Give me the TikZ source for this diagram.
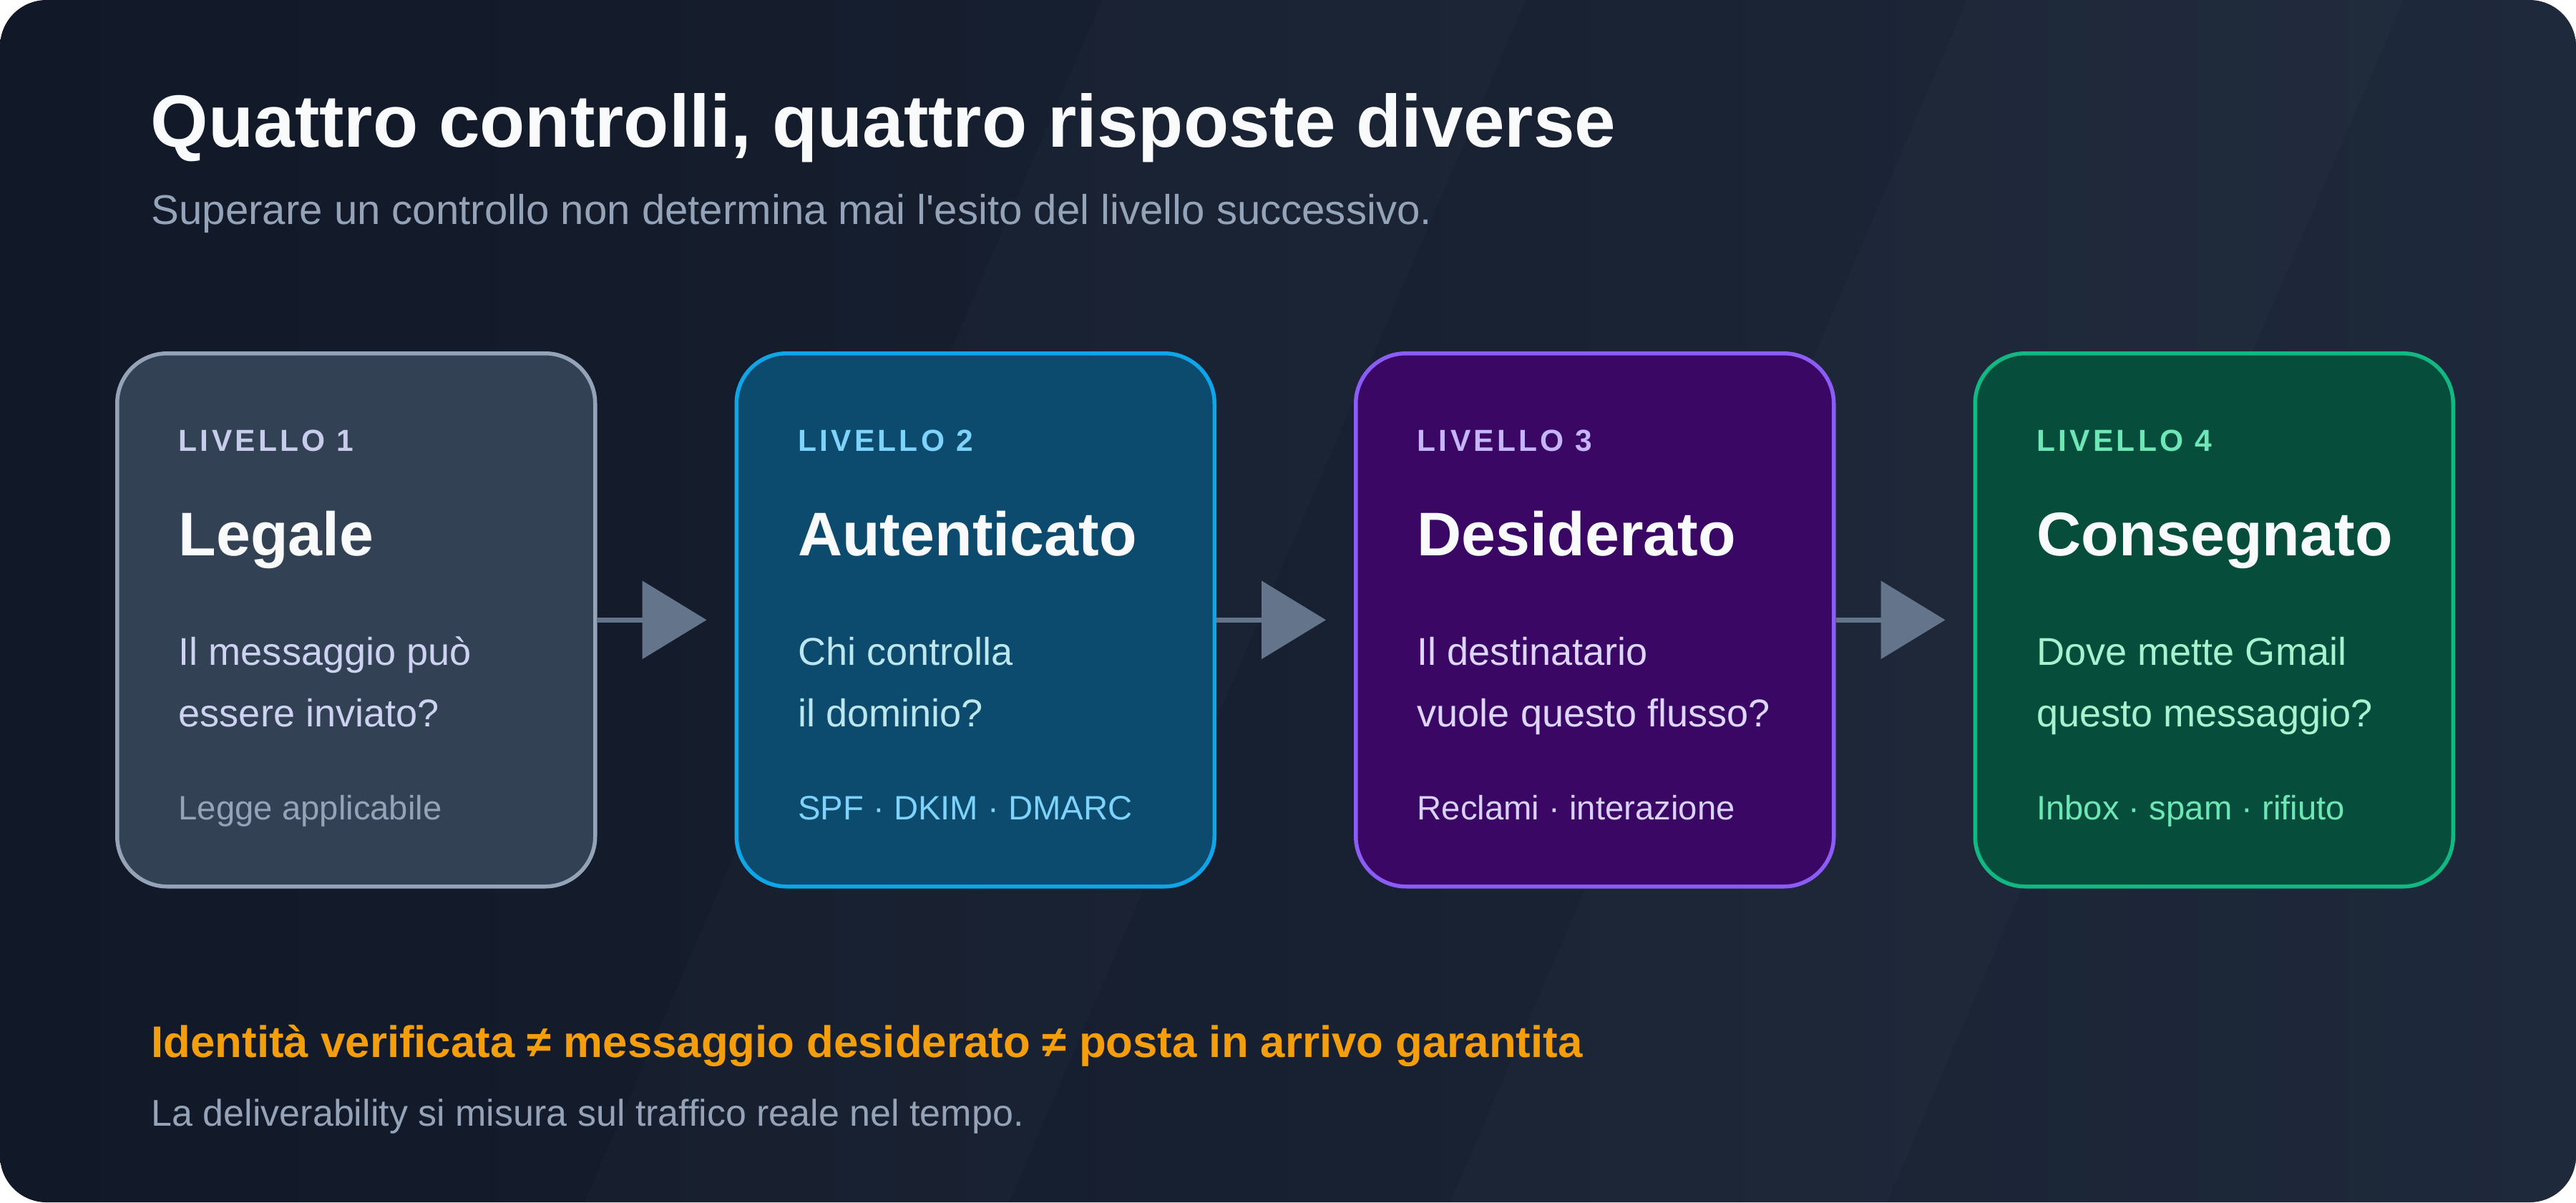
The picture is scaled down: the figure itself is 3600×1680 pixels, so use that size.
\documentclass[tikz,border=0pt]{standalone}
\usepackage{fontspec}
\setmainfont{Liberation Sans}
\newfontfamily\tagfont[LetterSpace=10]{Liberation Sans}
\usetikzlibrary{arrows.meta,positioning,calc}
\definecolor{bgleft}{HTML}{111827}
\definecolor{bgright}{HTML}{1E293B}
\definecolor{titlewhite}{HTML}{F8FAFC}
\definecolor{mutedgrey}{HTML}{94A3B8}
\definecolor{warnorange}{HTML}{F59E0B}
\definecolor{arrowgrey}{HTML}{64748B}
\definecolor{slatefill}{HTML}{334155}
\definecolor{slateline}{HTML}{94A3B8}
\definecolor{slatetag}{HTML}{C7CCEA}
\definecolor{slatetext}{HTML}{CDD2F0}
\definecolor{skyfill}{HTML}{0C4A6E}
\definecolor{skyline}{HTML}{0EA5E9}
\definecolor{skytag}{HTML}{7DD3FC}
\definecolor{skytext}{HTML}{BDE7EE}
\definecolor{violetfill}{HTML}{3B0764}
\definecolor{violetline}{HTML}{8B5CF6}
\definecolor{violettag}{HTML}{C4B5FD}
\definecolor{violettext}{HTML}{DDD6FE}
\definecolor{greenfill}{HTML}{064E3B}
\definecolor{greenline}{HTML}{10B981}
\definecolor{greentag}{HTML}{6EE7B7}
\definecolor{greentext}{HTML}{A7F3D0}
\tikzset{
  card/.style={rounded corners=7mm,line width=0.55mm,minimum width=66.8mm,minimum height=74.5mm,inner sep=0pt},
  lvltag/.style={anchor=base west,inner sep=0pt,font=\tagfont\bfseries\fontsize{12.1}{14}\selectfont},
  cardhead/.style={anchor=base west,inner sep=0pt,text=titlewhite,font=\bfseries\fontsize{24.5}{29}\selectfont},
  question/.style={anchor=base west,inner sep=0pt,align=left,font=\fontsize{15.4}{24.2}\selectfont},
  cardfoot/.style={anchor=base west,inner sep=0pt,font=\fontsize{13.45}{16}\selectfont},
  flow/.style={-{Triangle[length=9mm,width=10.8mm]},line width=0.7mm,draw=arrowgrey,shorten >=3.9mm}
}
\begin{document}
\begin{tikzpicture}[x=0.1mm,y=-0.1mm,node distance=19.2mm]
  \useasboundingbox (0,0) rectangle (3600,1680);
  \fill[white] (0,0) rectangle (3600,1680);
  \shade[left color=bgleft,right color=bgright,rounded corners=6.5mm] (0,0) rectangle (3600,1680);
  % faint diagonal bands
  \fill[white,opacity=0.015] (1540,0) -- (2132,0) -- (1410,1680) -- (817,1680) -- cycle;
  \fill[white,opacity=0.015] (2749,0) -- (3359,0) -- (2637,1680) -- (2027,1680) -- cycle;

  % header
  \node[anchor=base west,inner sep=0pt,text=titlewhite,font=\bfseries\fontsize{29.45}{35}\selectfont] (title) at (210,205) {Quattro controlli, quattro risposte diverse};
  \node[anchor=base west,inner sep=0pt,text=mutedgrey,font=\fontsize{16.55}{20}\selectfont] (subtitle) at (211,313) {Superare un controllo non determina mai l{\textquotesingle}esito del livello successivo.};

  % the four levels
  \node[card,fill=slatefill,draw=slateline,anchor=north west] (legale) at (161,491) {};
  \node[card,fill=skyfill,draw=skyline,right=of legale] (autent) {};
  \node[card,fill=violetfill,draw=violetline,right=of autent] (desid) {};
  \node[card,fill=greenfill,draw=greenline,right=of desid] (consegna) {};

  \node[lvltag,text=slatetag] (legaletag) at ($(legale.north west)+(88,139)$) {LIVELLO 1};
  \node[cardhead] (legalehead) at ($(legale.north west)+(88,285)$) {Legale};
  \node[question,text=slatetext] (legaleq) at ($(legale.north west)+(88,524)$) {Il messaggio può\\essere inviato?};
  \node[cardfoot,text=mutedgrey] (legalefoot) at ($(legale.north west)+(88,654)$) {Legge applicabile};

  \node[lvltag,text=skytag] (autenttag) at ($(autent.north west)+(88,139)$) {LIVELLO 2};
  \node[cardhead] (autenthead) at ($(autent.north west)+(88,285)$) {Autenticato};
  \node[question,text=skytext] (autentq) at ($(autent.north west)+(88,524)$) {Chi controlla\\il dominio?};
  \node[cardfoot,text=skytag] (autentfoot) at ($(autent.north west)+(88,654)$) {SPF · DKIM · DMARC};

  \node[lvltag,text=violettag] (desidtag) at ($(desid.north west)+(88,139)$) {LIVELLO 3};
  \node[cardhead] (desidhead) at ($(desid.north west)+(88,285)$) {Desiderato};
  \node[question,text=violettext] (desidq) at ($(desid.north west)+(88,524)$) {Il destinatario\\vuole questo flusso?};
  \node[cardfoot,text=violettext!85!violettag] (desidfoot) at ($(desid.north west)+(88,654)$) {Reclami · interazione};

  \node[lvltag,text=greentag] (consegnatag) at ($(consegna.north west)+(88,139)$) {LIVELLO 4};
  \node[cardhead] (consegnahead) at ($(consegna.north west)+(88,285)$) {Consegnato};
  \node[question,text=greentext] (consegnaq) at ($(consegna.north west)+(88,524)$) {Dove mette Gmail\\questo messaggio?};
  \node[cardfoot,text=greentag] (consegnafoot) at ($(consegna.north west)+(88,654)$) {Inbox · spam · rifiuto};

  \draw[flow] (legale) -- (autent);
  \draw[flow] (autent) -- (desid);
  \draw[flow] (desid) -- (consegna);

  % bottom line
  \node[anchor=base west,inner sep=0pt,text=warnorange,font=\bfseries\fontsize{17.57}{21}\selectfont] (claim) at (211,1477) {Identità verificata ≠ messaggio desiderato ≠ posta in arrivo garantita};
  \node[anchor=base west,inner sep=0pt,text=mutedgrey,font=\fontsize{14.8}{18}\selectfont] (note) at (211,1573) {La deliverability si misura sul traffico reale nel tempo.};
\end{tikzpicture}
\end{document}
